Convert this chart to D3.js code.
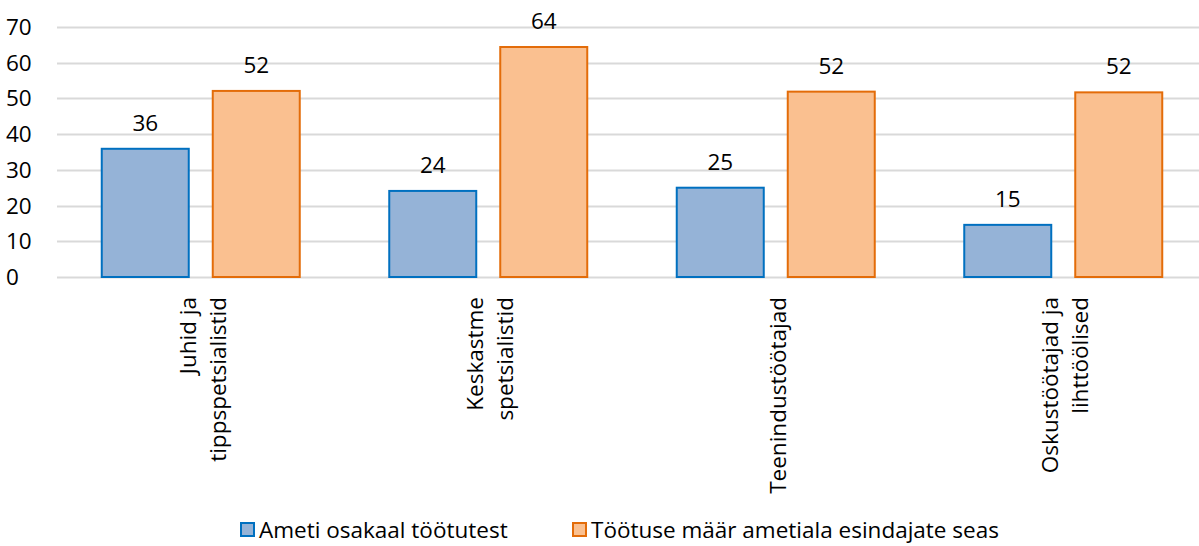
<!DOCTYPE html>
<html>
<head>
<meta charset="utf-8">
<script src="https://cdn.jsdelivr.net/npm/d3@7"></script>
<style>
  body { margin: 0; background: #fff; }
  text { font-family: "Open Sans", "Noto Sans", sans-serif; fill: #000; }
</style>
</head>
<body>
<svg id="chart"></svg>
<script>
// data
var categories = [
  ["Juhid ja", "tippspetsialistid"],
  ["Keskastme", "spetsialistid"],
  ["Teenindustöötajad"],
  ["Oskustöötajad ja", "lihttöölised"]
];
var seriesNames = ["Ameti osakaal töötutest", "Töötuse määr ametiala esindajate seas"];
var shareValues = [35.9, 24.1, 25.0, 14.6];
var rateValues = [52.1, 64.4, 51.9, 51.7];
var yTicks = [0, 10, 20, 30, 40, 50, 60, 70];

var width = 1199, height = 546;
var margin = {left: 57, right: -8, top: 27, bottom: 269};
var fills = ["#95b3d7", "#fac090"];
var strokes = ["#0070c0", "#e36c09"];
var fs = "22.5px";

var svg = d3.select("#chart").attr("width", width).attr("height", height);

var x = d3.scaleBand()
  .domain(d3.range(categories.length))
  .range([margin.left, width - margin.right]);

var y = d3.scaleLinear().domain([0, 70]).range([height - margin.bottom, margin.top]);

// gridlines
svg.append("g").selectAll("line")
  .data(yTicks)
  .enter().append("line")
  .attr("x1", margin.left).attr("x2", width)
  .attr("y1", function(d){ return Math.round(y(d)) + 0.5; })
  .attr("y2", function(d){ return Math.round(y(d)) + 0.5; })
  .attr("stroke", "#d9d9d9").attr("stroke-width", 2);

// y labels
svg.append("g").selectAll("text")
  .data(yTicks)
  .enter().append("text")
  .attr("x", 6).attr("y", function(d){ return y(d) + 8; })
  .style("font-size", fs)
  .text(function(d){ return d; });

var barW = 89, gap = 22;
var series = [shareValues, rateValues];

series.forEach(function(vals, s) {
  var g = svg.append("g");
  var bx = function(i){ return x(i) + x.bandwidth() / 2 + (s === 0 ? -gap / 2 - barW : gap / 2); };
  g.selectAll("rect")
    .data(vals)
    .enter().append("rect")
    .attr("x", function(d, i){ return bx(i) + 1; })
    .attr("y", function(d){ return y(d); })
    .attr("width", barW - 2)
    .attr("height", function(d){ return y(0) - y(d); })
    .attr("fill", fills[s])
    .attr("stroke", strokes[s])
    .attr("stroke-width", 2);
  g.selectAll("text")
    .data(vals)
    .enter().append("text")
    .attr("x", function(d, i){ return bx(i) + barW / 2; })
    .attr("y", function(d){ return y(d) - 18; })
    .attr("text-anchor", "middle")
    .style("font-size", fs)
    .text(function(d){ return Math.round(d); });
});

// category labels (rotated)
categories.forEach(function(lines, i) {
  var cx = x(i) + x.bandwidth() / 2 + 2;
  var t = svg.append("text")
    .attr("transform", "translate(" + cx + ",297) rotate(-90)")
    .attr("text-anchor", "end")
    .style("font-size", fs);
  var n = lines.length;
  lines.forEach(function(l, j) {
    t.append("tspan")
      .attr("x", 0)
      .attr("y", (j - (n - 1) / 2) * 30 + 8)
      .text(l);
  });
});

// legend
var legendX = [241, 573];
seriesNames.forEach(function(name, s) {
  svg.append("rect")
    .attr("x", legendX[s]).attr("y", 523)
    .attr("width", 13).attr("height", 13)
    .attr("fill", fills[s]).attr("stroke", strokes[s]).attr("stroke-width", 2);
  svg.append("text")
    .attr("x", legendX[s] + 18).attr("y", 538)
    .style("font-size", fs)
    .text(name);
});
</script>
</body>
</html>
